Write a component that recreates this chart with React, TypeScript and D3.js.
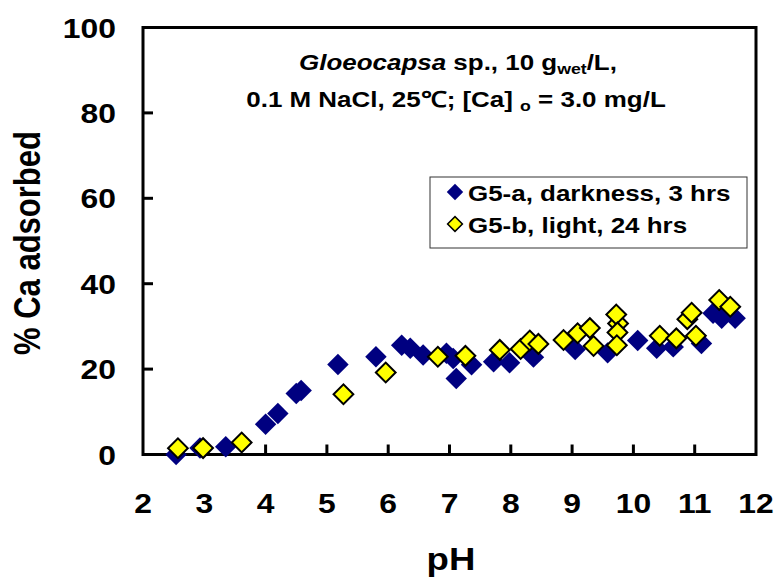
import React from "react";
import * as d3 from "d3";

const blueX = [2.54, 2.93, 3.35, 4.0, 4.2, 4.5, 4.58, 5.18, 5.8, 6.22, 6.36, 6.57, 6.95, 7.06, 7.11, 7.36, 7.72, 7.98, 8.37, 9.05, 9.58, 10.07, 10.38, 10.65, 11.11, 11.3, 11.44, 11.66];
const blueY = [0, 1.5, 1.8, 7.1, 9.6, 14.3, 15.0, 21.1, 22.9, 25.6, 24.9, 23.3, 23.7, 22.5, 17.8, 21.0, 21.7, 21.5, 22.8, 24.6, 23.8, 26.7, 24.9, 25.2, 26.0, 33.1, 31.9, 31.9];

const yellowX = [2.57, 2.98, 3.61, 5.27, 5.96, 6.81, 7.26, 7.82, 8.16, 8.31, 8.45, 8.86, 9.09, 9.29, 9.35, 9.75, 9.72, 9.74, 9.73, 10.43, 10.7, 11.02, 10.88, 10.95, 11.4, 11.58];
const yellowY = [1.45, 1.5, 2.8, 14.1, 19.2, 22.9, 23.1, 24.5, 24.7, 26.7, 25.9, 26.8, 28.4, 29.6, 25.4, 30.7, 32.8, 28.6, 25.6, 27.8, 27.2, 27.8, 31.7, 33.2, 36.2, 34.6];

const xTicks = [2, 3, 4, 5, 6, 7, 8, 9, 10, 11, 12];
const yTicks = [0, 20, 40, 60, 80, 100];

const seriesNames = ["G5-a, darkness, 3 hrs", "G5-b, light, 24 hrs"];
const xTitle = "pH";
const yTitle = "% Ca adsorbed";

const FONT = "'Liberation Sans', Arial, Helvetica, sans-serif";
const SX = 1.18;
const BLUE = "#000080";
const YELLOW = "#FFFF00";

function T({ x, y, size, anchor = "middle", rotate = 0, children }: any) {
  return (
    <text
      transform={`translate(${x},${y}) scale(${SX},1)${rotate ? ` rotate(${rotate})` : ""}`}
      fontFamily={FONT}
      fontWeight="bold"
      fontSize={size}
      textAnchor={anchor}
      fill="#000"
    >
      {children}
    </text>
  );
}

export default function App() {
  const W = 775, H = 577;
  const x = d3.scaleLinear().domain([2, 12]).range([143, 756]);
  const y = d3.scaleLinear().domain([0, 100]).range([454.5, 27.5]);
  const markBig = d3.symbol().type(d3.symbolSquare).size(230)()!;
  const markYel = d3.symbol().type(d3.symbolSquare).size(195)()!;
  const markLegB = d3.symbol().type(d3.symbolSquare).size(135)()!;
  const markLegY = d3.symbol().type(d3.symbolSquare).size(110)()!;
  const [x0, x1] = x.range();
  const [y0, y1] = y.range();
  const blue = blueX.map((v, i) => [v, blueY[i]]);
  const yel = yellowX.map((v, i) => [v, yellowY[i]]);

  return (
    <svg width={W} height={H} style={{ position: "absolute", left: 0, top: 0, background: "#fff" }}>
      <rect x={0} y={0} width={W} height={H} fill="#fff" />
      <path d={`M${x0},${y1} H${x1} V${y0} H${x0} Z`} fill="none" stroke="#000" strokeWidth={3} />
      {xTicks.slice(1, -1).map((t) => (
        <line key={"xt" + t} x1={x(t)} x2={x(t)} y1={y0} y2={y0 - 10} stroke="#000" strokeWidth={3} />
      ))}
      {yTicks.slice(1, -1).map((t) => (
        <line key={"yt" + t} x1={x0} x2={x0 + 10} y1={y(t)} y2={y(t)} stroke="#000" strokeWidth={3} />
      ))}
      {xTicks.map((t) => (
        <T key={"xl" + t} x={x(t)} y={513} size={27}>{t}</T>
      ))}
      {yTicks.map((t) => (
        <T key={"yl" + t} x={116} y={y(t) + 10} size={27} anchor="end">{t}</T>
      ))}
      <T x={451} y={570} size={31}>{xTitle}</T>
      <T x={40} y={243} size={31} rotate={-90}>{yTitle}</T>
      <T x={458} y={70} size={22}>
        <tspan fontStyle="italic">Gloeocapsa</tspan>
        <tspan> sp., 10 g</tspan>
        <tspan fontSize={15} dy={4}>wet</tspan>
        <tspan dy={-4}>/L,</tspan>
      </T>
      <T x={456} y={107} size={22}>
        <tspan>0.1 M NaCl, 25℃; [Ca] </tspan>
        <tspan fontSize={15} dy={4}>o</tspan>
        <tspan dy={-4}> = 3.0 mg/L</tspan>
      </T>
      <g>
        {blue.map(([a, b], i) => (
          <path key={"b" + i} d={markBig} transform={`translate(${x(a)},${y(b)}) rotate(45)`} fill={BLUE} />
        ))}
      </g>
      <g>
        {yel.map(([a, b], i) => (
          <path key={"y" + i} d={markYel} transform={`translate(${x(a)},${y(b)}) rotate(45)`} fill={YELLOW} stroke="#000" strokeWidth={2} />
        ))}
      </g>
      <rect x={430} y={177} width={317} height={71} fill="#fff" stroke="#333" strokeWidth={1} />
      <path d={markLegB} transform="translate(455,192) rotate(45)" fill={BLUE} />
      <path d={markLegY} transform="translate(455,224) rotate(45)" fill={YELLOW} stroke="#000" strokeWidth={1.5} />
      <T x={468} y={201} size={22} anchor="start">{seriesNames[0]}</T>
      <T x={468} y={233} size={22} anchor="start">{seriesNames[1]}</T>
    </svg>
  );
}
